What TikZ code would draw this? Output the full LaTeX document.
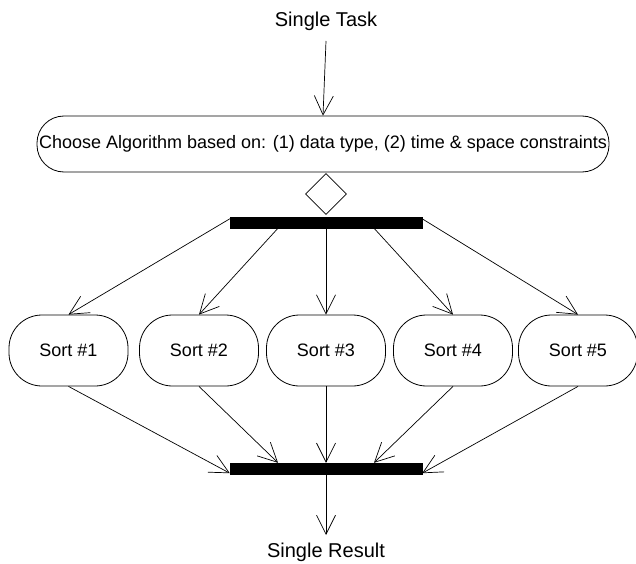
\documentclass[tikz,border=0pt]{standalone}
\usepackage{fontspec}
\setmainfont{Liberation Sans}
\usetikzlibrary{arrows.meta,shapes.geometric,calc}
\begin{document}
\begin{tikzpicture}[x=1pt,y=1pt,
  conn/.style={draw=black,line width=0.7pt,-{Straight Barb[length=19pt,width=19pt,line width=0.7pt]}},
  actbox/.style={draw=black,line width=0.8pt,rounded corners=33pt,minimum height=71pt,minimum width=119pt,inner sep=0pt,font=\fontsize{18}{21}\selectfont},
  bigbox/.style={draw=black,line width=0.8pt,rounded corners=27pt,minimum height=56pt,minimum width=572pt,inner sep=0pt,font=\fontsize{18}{21}\selectfont},
  forkbar/.style={fill=black,draw=black,minimum width=192pt,minimum height=11pt,inner sep=0pt},
  lbl/.style={font=\fontsize{20}{24}\selectfont,inner sep=0pt},
  dec/.style={diamond,draw=black,line width=0.8pt,minimum width=41pt,minimum height=41pt,inner sep=0pt}]
\useasboundingbox (0,0) rectangle (636,563);
\node[lbl] (task) at (326,542) {Single Task};
\coordinate (tstart) at (326,522);
\node[bigbox] (choose) at (323,419) {Choose Algorithm based on: (1) data type, (2) time \& space constraints};
\node[dec] (d) at (326,369) {};
\node[forkbar] (fork) at (326,340.5) {};
\node[actbox] (s1) at (68.5,212.5) {Sort \#1};
\node[actbox] (s2) at (199,212.5) {Sort \#2};
\node[actbox] (s3) at (326,212.5) {Sort \#3};
\node[actbox] (s4) at (453,212.5) {Sort \#4};
\node[actbox] (s5) at (578,212.5) {Sort \#5};
\node[forkbar] (join) at (326,94.5) {};
\coordinate (rend) at (326,28);
\node[lbl] (result) at (326,11) {Single Result};
\draw[conn] (tstart) -- (choose.north);
\draw[conn] ($(fork.north west)+(0,-2)$) -- (s1.north);
\draw[conn] ($(fork.south)+(-48,0)$) -- (s2.north);
\draw[conn] (fork.south) -- (s3.north);
\draw[conn] ($(fork.south)+(48,0)$) -- (s4.north);
\draw[conn] ($(fork.north east)+(0,-2)$) -- (s5.north);
\draw[conn] (s1.south) -- ($(join.south west)+(0,1)$);
\draw[conn] (s2.south) -- ($(join.north)+(-48,0)$);
\draw[conn] (s3.south) -- (join.north);
\draw[conn] (s4.south) -- ($(join.north)+(48,0)$);
\draw[conn] (s5.south) -- ($(join.south east)+(0,1)$);
\draw[conn] (join.south) -- (rend);
\end{tikzpicture}
\end{document}
